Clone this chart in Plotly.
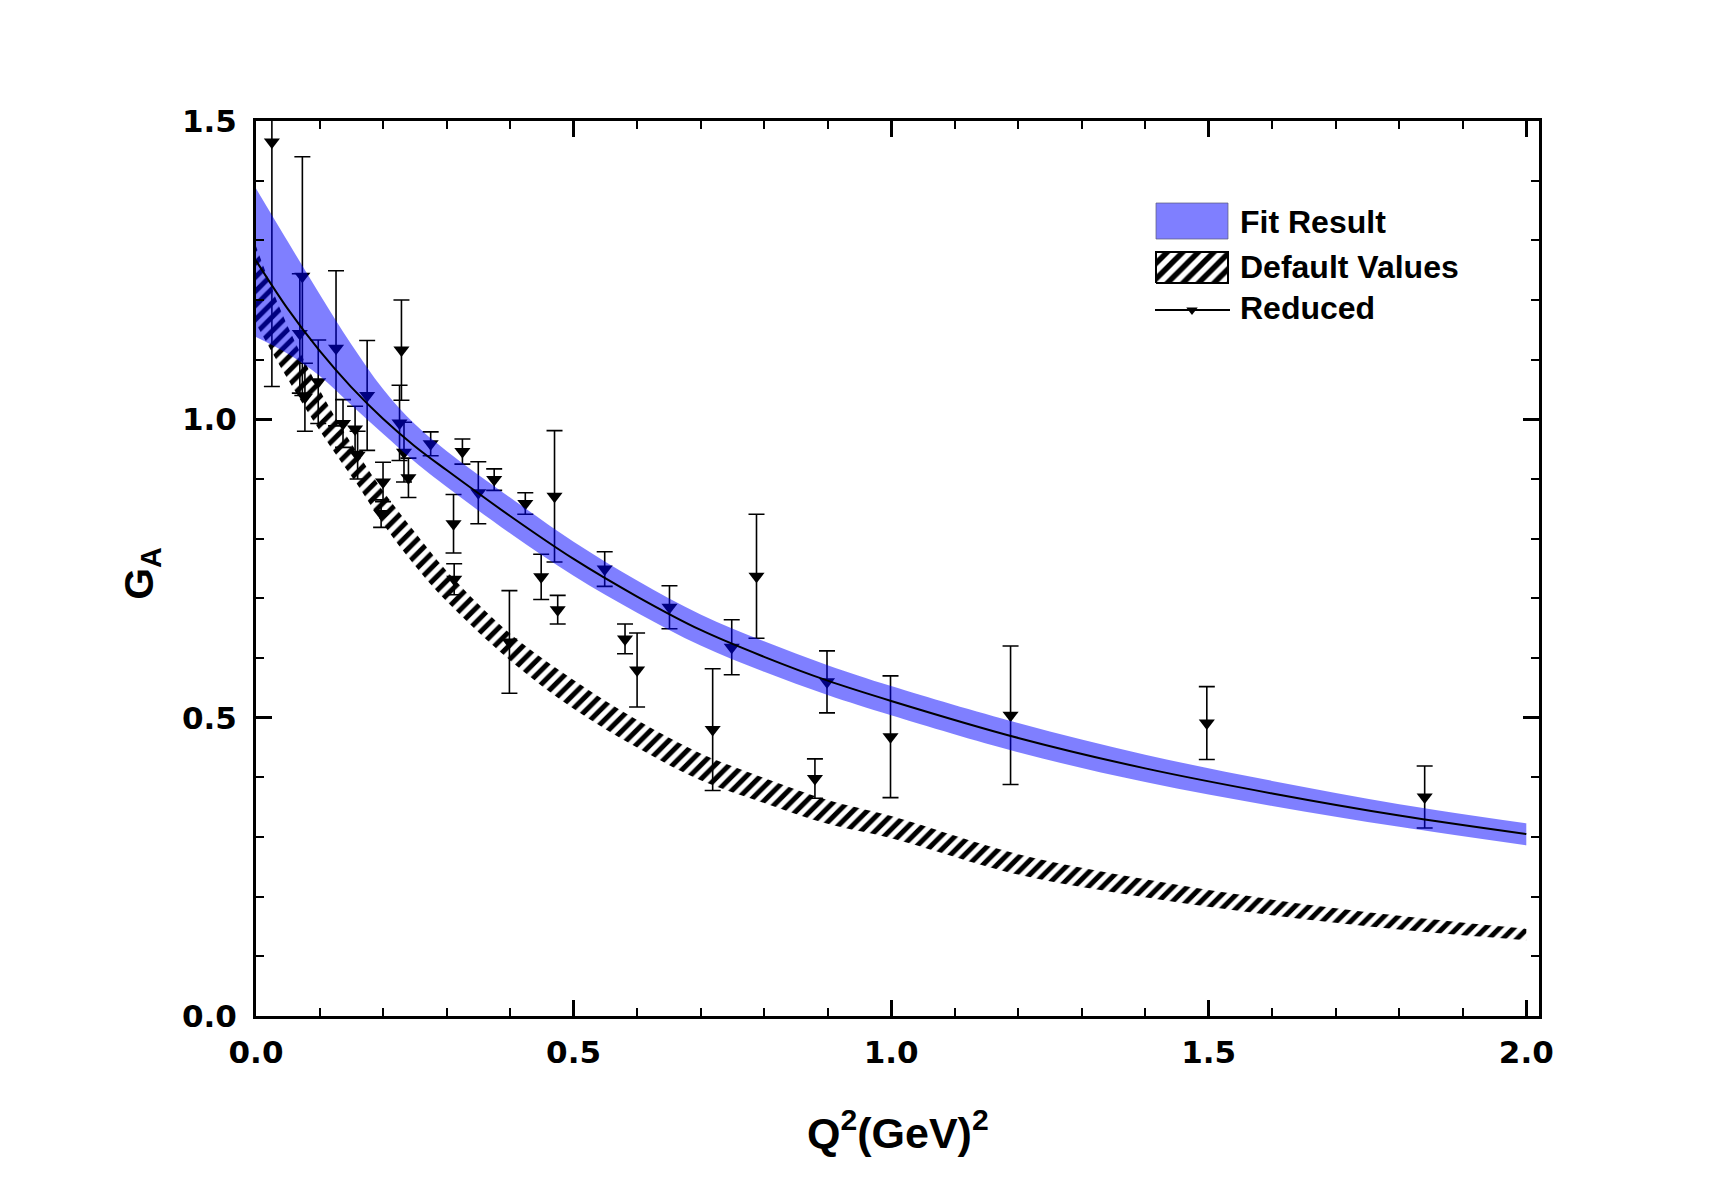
import plotly.graph_objects as go

# ---------------- data ----------------
# Reduced data points: Q^2, G_A, symmetric error
q2 = [0.025, 0.069, 0.073, 0.077, 0.098, 0.126, 0.137, 0.156, 0.160, 0.175,
      0.197, 0.200, 0.226, 0.229, 0.233, 0.240, 0.275, 0.311, 0.312, 0.325,
      0.350, 0.375, 0.399, 0.424, 0.449, 0.470, 0.475, 0.549, 0.581, 0.600,
      0.651, 0.719, 0.749, 0.788, 0.880, 0.899, 0.999, 1.188, 1.497, 1.840]
ga = [1.465, 1.144, 1.240, 1.037, 1.063, 1.119, 0.993, 0.984, 0.940, 1.040,
      0.842, 0.895, 0.994, 1.116, 0.945, 0.902, 0.959, 0.825, 0.732, 0.946,
      0.877, 0.899, 0.627, 0.859, 0.736, 0.871, 0.681, 0.749, 0.632, 0.580,
      0.685, 0.480, 0.618, 0.737, 0.398, 0.560, 0.468, 0.504, 0.491, 0.367]
ga_err = [0.410, 0.100, 0.200, 0.057, 0.070, 0.130, 0.040, 0.038, 0.040, 0.092,
          0.023, 0.033, 0.063, 0.084, 0.050, 0.033, 0.020, 0.049, 0.026, 0.021,
          0.052, 0.018, 0.086, 0.018, 0.038, 0.110, 0.024, 0.029, 0.025, 0.062,
          0.036, 0.102, 0.046, 0.104, 0.033, 0.052, 0.102, 0.116, 0.061, 0.052]

# Fit result: central curve and uncertainty band (same Q^2 grid)
fit_q2 = [0, 0.05, 0.1, 0.15, 0.2, 0.25, 0.3, 0.4, 0.5, 0.6, 0.7, 0.8, 0.9,
          1.0, 1.2, 1.4, 1.6, 1.8, 2.0]
fit_ga = [1.266, 1.185, 1.115, 1.054, 1.001, 0.955, 0.915, 0.838, 0.766, 0.703,
          0.647, 0.602, 0.562, 0.528, 0.466, 0.415, 0.373, 0.336, 0.305]
band_hi = [1.387, 1.298, 1.210, 1.126, 1.051, 0.992, 0.947, 0.869, 0.795, 0.730,
           0.673, 0.628, 0.588, 0.553, 0.491, 0.438, 0.394, 0.355, 0.323]
band_lo = [1.138, 1.110, 1.073, 1.024, 0.976, 0.929, 0.887, 0.809, 0.738, 0.676,
           0.621, 0.577, 0.538, 0.504, 0.442, 0.392, 0.352, 0.317, 0.286]

# Default values band
def_q2 = [0, 0.04, 0.08, 0.12, 0.16, 0.2, 0.25, 0.3, 0.4, 0.5, 0.6, 0.7, 0.8,
          0.9, 1.0, 1.2, 1.4, 1.6, 1.8, 2.0]
def_hi = [1.290, 1.180, 1.090, 1.012, 0.943, 0.880, 0.811, 0.746, 0.641, 0.563,
          0.496, 0.440, 0.399, 0.362, 0.335, 0.271, 0.229, 0.195, 0.168, 0.146]
def_lo = [1.160, 1.085, 1.015, 0.950, 0.890, 0.825, 0.755, 0.695, 0.596, 0.515,
          0.450, 0.395, 0.357, 0.322, 0.298, 0.237, 0.199, 0.169, 0.145, 0.127]

x_ticks = [0.0, 0.5, 1.0, 1.5, 2.0]
y_ticks = [0.0, 0.5, 1.0, 1.5]
legend_labels = ["Fit Result", "Default Values", "Reduced"]

# ---------------- styling ----------------
W, H = 1713, 1198
ML, MR, MT, MB = 256, 174, 121, 182
PW, PH = W - ML - MR, H - MT - MB
FONT = "Liberation Sans, Arial, sans-serif"
TICK_FONT = "DejaVu Sans, Liberation Sans, sans-serif"
BLUE_FILL = "rgba(0,0,255,0.5)"
HATCH = dict(shape="/", fgcolor="black", bgcolor="rgba(0,0,0,0)",
             size=10, solidity=0.5, fgopacity=1)

fig = go.Figure()

# default values hatched band
fig.add_trace(go.Scatter(x=def_q2, y=def_lo, mode="lines",
                         line=dict(width=0, shape="spline", color="black"),
                         showlegend=False, hoverinfo="skip"))
fig.add_trace(go.Scatter(x=def_q2, y=def_hi, mode="lines", fill="tonexty",
                         fillcolor="black", fillpattern=HATCH,
                         line=dict(width=0, shape="spline", color="black"),
                         name=legend_labels[1], showlegend=False, hoverinfo="skip"))

# reduced data points
fig.add_trace(go.Scatter(x=q2, y=ga, mode="markers",
                         marker=dict(symbol="triangle-down", size=14, color="black"),
                         error_y=dict(type="data", array=ga_err, visible=True,
                                      color="black", thickness=1.6, width=8),
                         name=legend_labels[2], showlegend=False))

# fit band (semi-transparent, on top of the points)
fig.add_trace(go.Scatter(x=fit_q2, y=band_lo, mode="lines",
                         line=dict(width=0, shape="spline", color=BLUE_FILL),
                         showlegend=False, hoverinfo="skip"))
fig.add_trace(go.Scatter(x=fit_q2, y=band_hi, mode="lines", fill="tonexty",
                         fillcolor=BLUE_FILL,
                         line=dict(width=0, shape="spline", color=BLUE_FILL),
                         name=legend_labels[0], showlegend=False, hoverinfo="skip"))

# fit central line
fig.add_trace(go.Scatter(x=fit_q2, y=fit_ga, mode="lines",
                         line=dict(color="black", width=2, shape="spline"),
                         showlegend=False, hoverinfo="skip"))

# ---------------- custom legend (pixel units inside plot area) ----------------
LEG_X0, LEG_X1 = 900, 972          # swatch left/right
LEG_Y_FIT = (777, 813)             # swatch bottom/top
LEG_Y_DEF = (733, 764)
LEG_Y_RED = 706
LEG_TEXT_X = 982
LEG_TEXT_Y = [794, 749, 708]

fig.add_trace(go.Scatter(x=[LEG_X0, LEG_X1, LEG_X1, LEG_X0, LEG_X0],
                         y=[LEG_Y_FIT[0], LEG_Y_FIT[0], LEG_Y_FIT[1], LEG_Y_FIT[1], LEG_Y_FIT[0]],
                         mode="lines", fill="toself", fillcolor=BLUE_FILL,
                         line=dict(color="rgba(90,90,120,0.7)", width=1),
                         xaxis="x2", yaxis="y2", showlegend=False, hoverinfo="skip"))
fig.add_trace(go.Scatter(x=[LEG_X0, LEG_X1, LEG_X1, LEG_X0, LEG_X0],
                         y=[LEG_Y_DEF[0], LEG_Y_DEF[0], LEG_Y_DEF[1], LEG_Y_DEF[1], LEG_Y_DEF[0]],
                         mode="lines", fill="toself", fillcolor="black",
                         fillpattern=dict(shape="/", fgcolor="black", bgcolor="white",
                                          size=11, solidity=0.5, fgopacity=1),
                         line=dict(color="black", width=2),
                         xaxis="x2", yaxis="y2", showlegend=False, hoverinfo="skip"))
fig.add_trace(go.Scatter(x=[LEG_X0 - 1, LEG_X1 + 2], y=[LEG_Y_RED, LEG_Y_RED],
                         mode="lines", line=dict(color="black", width=2.2),
                         xaxis="x2", yaxis="y2", showlegend=False, hoverinfo="skip"))
fig.add_trace(go.Scatter(x=[(LEG_X0 + LEG_X1) / 2], y=[LEG_Y_RED], mode="markers",
                         marker=dict(symbol="triangle-down", size=10, color="black"),
                         xaxis="x2", yaxis="y2", showlegend=False, hoverinfo="skip"))

annotations = []
for lab, ty in zip(legend_labels, LEG_TEXT_Y):
    annotations.append(dict(x=LEG_TEXT_X, y=ty, xref="x2", yref="y2", text=lab,
                            showarrow=False, xanchor="left", yanchor="middle",
                            font=dict(family=FONT, size=32, color="black", weight="bold")))

# axis titles
annotations.append(dict(x=0.5, y=-0.127, xref="paper", yref="paper",
                        text="Q<sup>2</sup>(GeV)<sup>2</sup>", showarrow=False,
                        xanchor="center", yanchor="middle",
                        font=dict(family=FONT, size=43, color="black", weight="bold")))
annotations.append(dict(x=-0.089, y=0.495, xref="paper", yref="paper",
                        text="G<sub>A</sub>", showarrow=False, textangle=-90,
                        xanchor="center", yanchor="middle",
                        font=dict(family=FONT, size=41, color="black", weight="bold")))

tickfont = dict(family=TICK_FONT, size=31, color="black", weight="bold")
common = dict(showline=True, linecolor="black", linewidth=3, mirror="ticks",
              ticks="inside", ticklen=16, tickwidth=2.5, tickcolor="black",
              showgrid=False, zeroline=False, tickfont=tickfont,
              minor=dict(ticks="inside", ticklen=8, tickwidth=2, tickcolor="black",
                         dtick=0.1, showgrid=False))

fig.update_layout(
    width=W, height=H,
    margin=dict(l=ML, r=MR, t=MT, b=MB),
    paper_bgcolor="white", plot_bgcolor="white",
    showlegend=False,
    xaxis=dict(range=[0, 2.02], tickvals=x_ticks, tickformat=".1f",
               ticklabelstandoff=7, **common),
    yaxis=dict(range=[0, 1.5], tickvals=y_ticks, tickformat=".1f",
               ticklabelstandoff=10, **common),
    xaxis2=dict(overlaying="x", anchor="y2", range=[0, PW], visible=False,
                fixedrange=True),
    yaxis2=dict(overlaying="y", anchor="x2", range=[0, PH], visible=False,
                fixedrange=True),
    annotations=annotations,
)

fig.write_html("out.html")
